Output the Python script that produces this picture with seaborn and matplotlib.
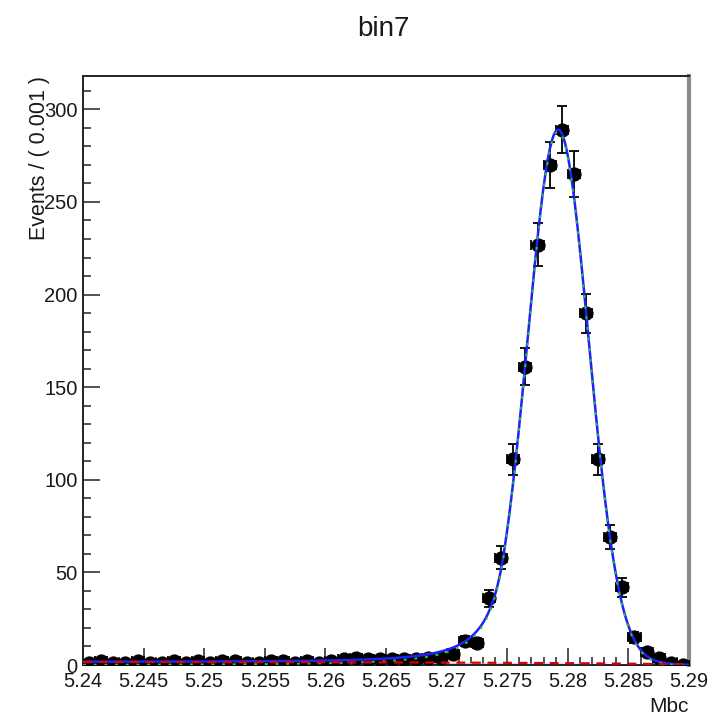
import numpy as np
import pandas as pd
import matplotlib
matplotlib.use("Agg")
import matplotlib.pyplot as plt
from matplotlib.ticker import MultipleLocator, FixedLocator
import seaborn as sns

# ---- histogram of Mbc, 50 bins of width 0.001 in [5.24, 5.29] ----
x_lo, x_hi, bin_w = 5.24, 5.29, 0.001
bin_centers = [round(5.2405 + 0.001 * i, 4) for i in range(50)]
counts = [1, 2, 1, 1, 2, 1, 1, 2, 1, 2,
          1, 2, 2, 1, 1, 2, 2, 1, 2, 1,
          2, 3, 4, 3, 3, 3, 3, 3, 4, 4,
          6, 13, 12, 36, 58, 111, 161, 227, 270, 289,
          265, 190, 111, 69, 42, 15, 7, 4, 1, 0]
errors = [1.0, 1.2, 1.0, 1.0, 1.2, 1.0, 1.0, 1.2, 1.0, 1.2,
          1.0, 1.2, 1.2, 1.0, 1.0, 1.2, 1.2, 1.0, 1.2, 1.0,
          1.2, 1.4, 1.6, 1.4, 1.4, 1.4, 1.4, 1.4, 1.6, 1.6,
          2.0, 2.8, 2.7, 4.7, 6.0, 8.3, 10.0, 11.5, 12.5, 12.8,
          12.3, 10.5, 8.3, 6.5, 5.1, 3.0, 2.1, 1.6, 1.0, 0.0]

x_ticks = [5.24, 5.245, 5.25, 5.255, 5.26, 5.265, 5.27, 5.275, 5.28, 5.285, 5.29]
x_tick_labels = ["5.24", "5.245", "5.25", "5.255", "5.26", "5.265",
                 "5.27", "5.275", "5.28", "5.285", "5.29"]
y_ticks = [0, 50, 100, 150, 200, 250, 300]

# ---- fitted model: Crystal Ball signal + ARGUS background (events per bin) ----
sig_peak, sig_mean, sig_sigma, cb_alpha, cb_n = 288.0, 5.2792, 0.00252, 1.8, 2.5
bkg_norm, argus_m0, argus_c = 1.6, 5.29, -20.0


def crystal_ball(x):
    t = (x - sig_mean) / sig_sigma
    A = (cb_n / cb_alpha) ** cb_n * np.exp(-cb_alpha ** 2 / 2)
    B = cb_n / cb_alpha - cb_alpha
    tail = A * np.clip(B - t, 1e-9, None) ** (-cb_n)
    return np.where(t > -cb_alpha, np.exp(-t ** 2 / 2), tail)


def argus(x):
    z = np.clip(1 - (x / argus_m0) ** 2, 0, None)
    return x * np.sqrt(z) * np.exp(argus_c * z)


xs = np.linspace(x_lo, x_hi, 1200)
bkg = bkg_norm * argus(xs) / argus(np.array([5.25]))[0]
sig = sig_peak * crystal_ball(xs)
total = sig + bkg
curves = pd.DataFrame({"Mbc": xs, "total": total, "signal": sig, "background": bkg})
data = pd.DataFrame({"Mbc": bin_centers, "events": counts, "err": errors})

# ---- figure ----
sns.set_style("white")
plt.rcParams["font.family"] = ["Liberation Sans", "DejaVu Sans"]
fig = plt.figure(figsize=(7.17, 7.17), dpi=100)
ax = fig.add_axes([0.1158, 0.0725, 0.8452, 0.8215])

# data with bin-width x errors and y errors
ax.errorbar(data["Mbc"], data["events"], yerr=data["err"], xerr=bin_w / 2,
            fmt="none", ecolor="black", elinewidth=1.3, capsize=3.5,
            capthick=1.3, zorder=3)
sns.scatterplot(data=data, x="Mbc", y="events", ax=ax, color="black",
                s=105, edgecolor="black", linewidth=0, zorder=4, legend=False)

# background component with a light fill underneath
ax.fill_between(curves["Mbc"], 0, curves["background"], color="#f4a6a6",
                alpha=0.8, linewidth=0, zorder=2)
sns.lineplot(data=curves, x="Mbc", y="total", ax=ax, color="#1f1fff",
             linewidth=1.8, zorder=5)
sns.lineplot(data=curves, x="Mbc", y="signal", ax=ax, color="#22cc22",
             linewidth=1.4, zorder=6)
ax.lines[-1].set_dashes([1.5, 4])
sns.lineplot(data=curves, x="Mbc", y="background", ax=ax, color="#dd0000",
             linewidth=1.6, zorder=6)
ax.lines[-1].set_dashes([4, 3])

ax.set_xlim(x_lo, x_hi)
ax.set_ylim(0, 318)

ax.xaxis.set_major_locator(FixedLocator(x_ticks))
ax.set_xticklabels(x_tick_labels)
ax.xaxis.set_minor_locator(MultipleLocator(0.001))
ax.yaxis.set_major_locator(FixedLocator(y_ticks))
ax.yaxis.set_minor_locator(MultipleLocator(10))

ax.tick_params(axis="both", which="both", bottom=True, left=True,
               top=False, right=False, direction="in")
ax.tick_params(axis="both", which="major", length=12, width=1.2,
               labelsize=14.5, colors="#333333", labelcolor="#1a1a1a")
ax.tick_params(axis="both", which="minor", length=6, width=1.2,
               colors="#333333")
ax.tick_params(axis="x", which="major", pad=5)
ax.tick_params(axis="y", which="major", pad=4)

for side in ["left", "bottom", "top"]:
    ax.spines[side].set_color("#222222")
    ax.spines[side].set_linewidth(1.4)
ax.spines["right"].set_color("#8a8a8a")
ax.spines["right"].set_linewidth(3)

ax.set_xlabel("Mbc", fontsize=15, color="#1a1a1a", loc="right")
ax.xaxis.set_label_coords(1.0, -0.055)
ax.set_ylabel("Events / ( 0.001 )", fontsize=15.5, color="#1a1a1a", loc="top")
ax.yaxis.set_label_coords(-0.055, 1.0)

fig.text(0.5345, 0.95, "bin7", ha="center", va="baseline", fontsize=20,
         color="#1a1a1a")

fig.savefig("out.png", dpi=100)
